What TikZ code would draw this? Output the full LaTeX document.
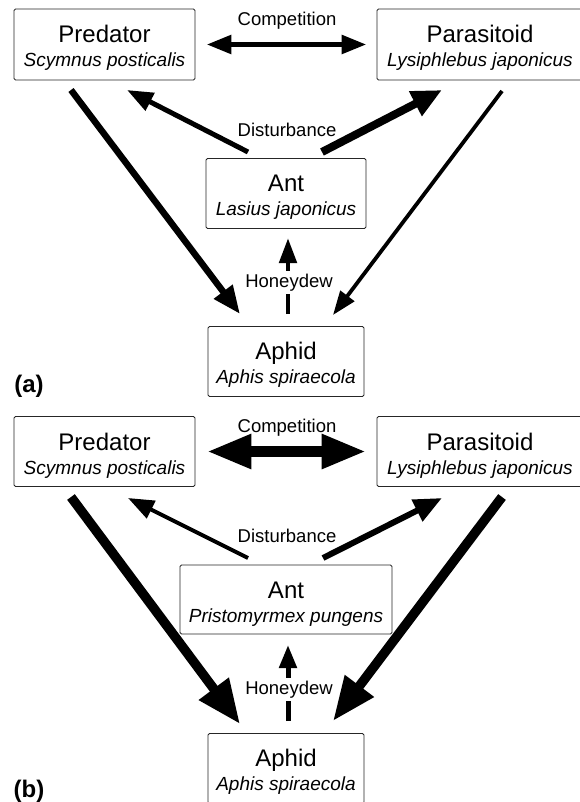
\documentclass[tikz,border=0pt]{standalone}
\usepackage{fontspec}
\setmainfont{Liberation Sans}
\usetikzlibrary{arrows.meta}
\tikzset{
  box/.style={draw=black!85, line width=0.9pt, rounded corners=1.5pt, fill=white, inner sep=0pt},
  mainlbl/.style={font=\fontsize{24}{28}\selectfont, anchor=base, inner sep=0pt},
  speclbl/.style={font=\fontsize{19}{23}\selectfont\itshape, anchor=base, inner sep=0pt},
  edgelbl/.style={font=\fontsize{18.5}{22}\selectfont, anchor=base, inner sep=0pt},
  panellbl/.style={font=\fontsize{24}{28}\selectfont\bfseries, anchor=base, inner sep=0pt},
  arr/.style n args={3}{line width=#1, -{Triangle[length=#2, width=#3]}},
  dblarr/.style n args={3}{line width=#1, {Triangle[length=#2, width=#3]}-{Triangle[length=#2, width=#3]}},
}
\begin{document}
\begin{tikzpicture}[x=1pt, y=-1pt]
\useasboundingbox (0,0) rectangle (580,802);
\clip (0,0) rectangle (580,802);

% ---------------- panel (a) ----------------
\node[box, minimum width=181pt, minimum height=71pt] (predA) at (104.5,44.5) {};
\node[box, minimum width=206pt, minimum height=71pt] (parA) at (480,44.5) {};
\node[box, minimum width=160pt, minimum height=70pt] (antA) at (286,193.5) {};
\node[box, minimum width=156pt, minimum height=70pt] (aphA) at (286,361.5) {};

\node[mainlbl] (predAt) at (104.5,43) {Predator};
\node[speclbl] (predAs) at (104.5,67) {Scymnus posticalis};
\node[mainlbl] (parAt) at (480,43) {Parasitoid};
\node[speclbl] (parAs) at (480,67) {Lysiphlebus japonicus};
\node[mainlbl] (antAt) at (286,192) {Ant};
\node[speclbl] (antAs) at (286,216) {Lasius japonicus};
\node[mainlbl] (aphAt) at (286,359) {Aphid};
\node[speclbl] (aphAs) at (286,383) {Aphis spiraecola};

\coordinate (dLsA) at (248,152);
\coordinate (dLeA) at (127,90);
\coordinate (dRsA) at (322,152);
\coordinate (dReA) at (442,90);
\coordinate (pPsA) at (71,90);
\coordinate (pPeA) at (240,314);
\coordinate (qPsA) at (502,91);
\coordinate (qPeA) at (333,315);
\coordinate (hsA) at (288,314);
\coordinate (heA) at (288,238);

\draw[dblarr={5.5pt}{25pt}{18pt}] ([xshift=11pt]predA.east) -- ([xshift=-10pt]parA.west);
\draw[arr={5pt}{26pt}{19pt}] (dLsA) -- (dLeA);
\draw[arr={8pt}{30pt}{26pt}] (dRsA) -- (dReA);
\draw[arr={6.5pt}{28pt}{22pt}] (pPsA) -- (pPeA);
\draw[arr={3.8pt}{24pt}{17pt}] (qPsA) -- (qPeA);
\draw[arr={4.8pt}{25pt}{17pt}] (hsA) -- (heA);

\node[edgelbl] (compA) at (287,26) {Competition};
\node[edgelbl] (distA) at (287,137) {Disturbance};
\node[edgelbl, fill=white, inner ysep=3pt, inner xsep=1pt] (honA) at (289,287) {Honeydew};
\node[panellbl] (labA) at (29,392) {(a)};

% ---------------- panel (b) ----------------
\node[box, minimum width=181pt, minimum height=70pt] (predB) at (104.5,451.5) {};
\node[box, minimum width=206pt, minimum height=70pt] (parB) at (480,451.5) {};

\coordinate (dLsB) at (248,558);
\coordinate (dLeB) at (128,498);
\coordinate (dRsB) at (323,558);
\coordinate (dReB) at (442,498);
\coordinate (pPsB) at (71,497);
\coordinate (pPeB) at (240,724);
\coordinate (qPsB) at (502,497);
\coordinate (qPeB) at (333,721);
\coordinate (hsB) at (288,721);
\coordinate (heB) at (288,645);

\draw[arr={9.5pt}{44pt}{35pt}] (pPsB) -- (pPeB);
\draw[arr={9.5pt}{44pt}{34pt}] (qPsB) -- (qPeB);

\node[box, minimum width=212pt, minimum height=69pt] (antB) at (286,599.5) {};
\node[box, minimum width=156pt, minimum height=70pt] (aphB) at (286,768.5) {};

\node[mainlbl] (predBt) at (104.5,450) {Predator};
\node[speclbl] (predBs) at (104.5,474) {Scymnus posticalis};
\node[mainlbl] (parBt) at (480,450) {Parasitoid};
\node[speclbl] (parBs) at (480,474) {Lysiphlebus japonicus};
\node[mainlbl] (antBt) at (286,598) {Ant};
\node[speclbl] (antBs) at (286,622) {Pristomyrmex pungens};
\node[mainlbl] (aphBt) at (286,766) {Aphid};
\node[speclbl] (aphBs) at (286,790) {Aphis spiraecola};

\draw[dblarr={11.5pt}{45pt}{32pt}] ([xshift=11pt]predB.east) -- ([xshift=-10pt]parB.west);
\draw[arr={4pt}{26pt}{19pt}] (dLsB) -- (dLeB);
\draw[arr={6pt}{28pt}{23pt}] (dRsB) -- (dReB);
\draw[arr={5pt}{23pt}{17pt}] (hsB) -- (heB);

\node[edgelbl] (compB) at (287,432) {Competition};
\node[edgelbl] (distB) at (287,542) {Disturbance};
\node[edgelbl, fill=white, inner ysep=3pt, inner xsep=1pt] (honB) at (289,694) {Honeydew};
\node[panellbl] (labB) at (29,797) {(b)};
\end{tikzpicture}
\end{document}
